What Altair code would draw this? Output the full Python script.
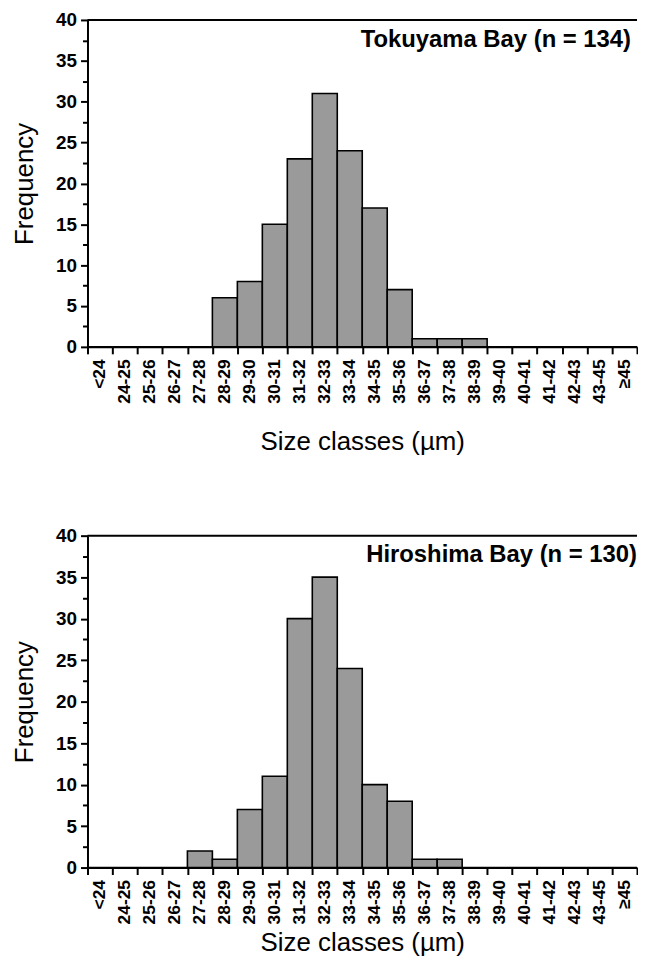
import altair as alt
import pandas as pd

categories = ["<24", "24-25", "25-26", "26-27", "27-28", "28-29", "29-30", "30-31",
              "31-32", "32-33", "33-34", "34-35", "35-36", "36-37", "37-38", "38-39",
              "39-40", "40-41", "41-42", "42-43", "43-45", "≥45"]
tokuyama = [0, 0, 0, 0, 0, 6, 8, 15, 23, 31, 24, 17, 7, 1, 1, 1, 0, 0, 0, 0, 0, 0]
hiroshima = [0, 0, 0, 0, 2, 1, 7, 11, 30, 35, 24, 10, 8, 1, 1, 0, 0, 0, 0, 0, 0, 0]
major_ticks = [0, 5, 10, 15, 20, 25, 30, 35, 40]
minor_ticks = [2.5, 7.5, 12.5, 17.5, 22.5, 27.5, 32.5, 37.5]
labels = ["Tokuyama Bay (n = 134)", "Hiroshima Bay (n = 130)"]

W = 553
FONT = "Liberation Sans"


def panel(values, label, label_dx, height, title_pad):
    df = pd.DataFrame({"cls": categories, "freq": values})
    x = alt.X("cls:N", sort=categories,
              scale=alt.Scale(paddingInner=0, paddingOuter=0),
              axis=alt.Axis(title="Size classes (µm)", labelAngle=-90, labelAlign="right",
                            labelBaseline="middle", labelFontSize=17.5, labelFontWeight="bold",
                            labelFont=FONT, labelColor="black", labelPadding=5,
                            tickBand="extent", tickSize=7, tickWidth=2, tickColor="black",
                            domainColor="black", domainWidth=2,
                            titleFont=FONT, titleFontSize=26, titleFontWeight="normal",
                            titleColor="black", titlePadding=title_pad))
    yscale = alt.Scale(domain=[0, 40])
    bars = alt.Chart(df).mark_bar(fill="#9a9a9a", stroke="black", strokeWidth=1.6).encode(
        x=x,
        y=alt.Y("freq:Q", scale=yscale,
                axis=alt.Axis(title="Frequency", values=major_ticks, orient="left",
                              labelFontSize=19, labelFontWeight="bold", labelFont=FONT,
                              labelColor="black", labelPadding=4, tickSize=7, tickWidth=2,
                              tickColor="black", domainColor="black", domainWidth=2,
                              grid=False, titleFont=FONT, titleFontSize=26,
                              titleFontWeight="normal", titleColor="black", titlePadding=18)),
    )
    minor = alt.Chart(pd.DataFrame({"m": minor_ticks})).mark_point(opacity=0).encode(
        y=alt.Y("m:Q", scale=yscale,
                axis=alt.Axis(title=None, values=minor_ticks, orient="left", labels=False,
                              domain=False, tickSize=5, tickWidth=2, tickColor="black",
                              grid=False)),
    )
    top = alt.Chart(pd.DataFrame({"t": [label]})).mark_rule(color="black", strokeWidth=2).encode(
        x=alt.value(0), x2=alt.value(W), y=alt.value(0))
    txt = alt.Chart(pd.DataFrame({"t": [label]})).mark_text(
        align="right", baseline="alphabetic", font=FONT, fontSize=24, fontWeight="bold",
        color="black").encode(text="t:N", x=alt.value(W - label_dx), y=alt.value(27))
    return alt.layer(bars, minor, top, txt).resolve_axis(y="independent").properties(
        width=W, height=height)


chart = alt.vconcat(panel(tokuyama, labels[0], 6, 329, 26),
                    panel(hiroshima, labels[1], 0, 334, 6),
                    spacing=72).properties(padding={"left": 3, "top": 0, "right": 0, "bottom": 0}
                    ).configure_view(stroke=None)

chart.save("out.html", embed_options={"renderer": "svg", "actions": False})
